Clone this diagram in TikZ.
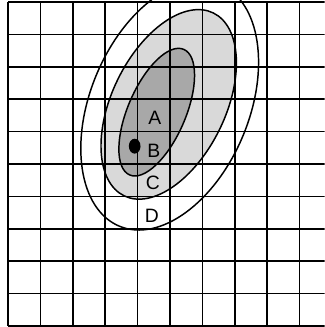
\documentclass[tikz,border=0pt]{standalone}
\usepackage{fontspec}
\setmainfont{Liberation Sans}
\begin{document}
\begin{tikzpicture}[
  gridline/.style={line width=1.4pt, black},
  ring/.style={line width=1.3pt, black},
  lightfill/.style={fill=black!15},
  darkfill/.style={fill=black!34},
  lbl/.style={font=\fontsize{17}{20}\selectfont, inner sep=0pt}
]
\useasboundingbox (-0.247,-0.031) rectangle (9.77,10.062);
\clip (-0.247,-0.031) rectangle (9.77,10.062);
\coordinate (cD) at (4.99,6.81);
\coordinate (cC) at (4.96,6.84);
\coordinate (cA) at (4.59,6.60);
% fills
\fill[lightfill, rotate around={64:(cC)}] (cC) ellipse [x radius=3.14, y radius=1.75];
\fill[darkfill, rotate around={66.7:(cA)}] (cA) ellipse [x radius=2.11, y radius=0.89];
% grid
\foreach \x in {0,...,9} \draw[gridline] (\x,0) -- (\x,10);
\foreach \y in {0,...,10} \draw[gridline] (0,\y) -- (10.5,\y);
% outlines
\draw[ring, rotate around={67.4:(cD)}] (cD) ellipse [x radius=4.04, y radius=2.45];
\draw[ring, rotate around={64:(cC)}] (cC) ellipse [x radius=3.14, y radius=1.75];
\draw[ring, rotate around={66.7:(cA)}] (cA) ellipse [x radius=2.11, y radius=0.89];
% dot
\fill[black] (3.91,5.55) ellipse [x radius=0.18, y radius=0.23];
% labels
\node[lbl] (A) at (4.53,6.41) {A};
\node[lbl] (B) at (4.50,5.42) {B};
\node[lbl] (C) at (4.47,4.41) {C};
\node[lbl] (D) at (4.44,3.39) {D};
\end{tikzpicture}
\end{document}
